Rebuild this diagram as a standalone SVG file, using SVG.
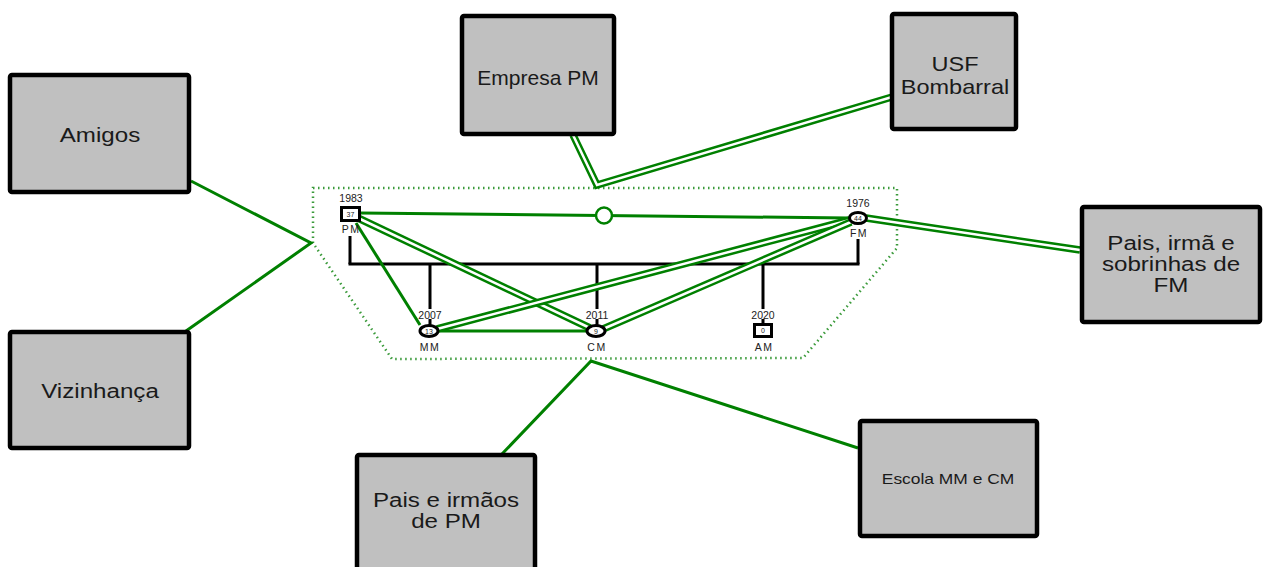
<svg xmlns="http://www.w3.org/2000/svg" width="1264" height="567" viewBox="0 0 1264 567">
<style>
.box{fill:#c0c0c0;stroke:#000;stroke-width:4.5}
.bt{font-family:"Liberation Sans",Arial,sans-serif;font-size:21px;fill:#1a1a1a;text-anchor:middle}
.st{font-family:"Liberation Sans",Arial,sans-serif;font-size:15px;fill:#1a1a1a;text-anchor:middle}
.g1{fill:none;stroke:#008000;stroke-width:3}
.g2o{fill:none;stroke:#008000;stroke-width:7.5;stroke-linejoin:miter}
.g2i{fill:none;stroke:#fff;stroke-width:2.5;stroke-linejoin:miter}
.fam{fill:none;stroke:#000;stroke-width:3}
.hh{fill:none;stroke:#3a9a3a;stroke-width:2.5;stroke-dasharray:1.5 3.5}
.sym{fill:#fff;stroke:#000;stroke-width:3}
.yr{font-family:"Liberation Sans",Arial,sans-serif;font-size:10.5px;fill:#222;text-anchor:middle}
.nm{font-family:"Liberation Sans",Arial,sans-serif;font-size:10.5px;fill:#222;text-anchor:middle;letter-spacing:1.5px}
.ag{font-family:"Liberation Sans",Arial,sans-serif;font-size:7px;fill:#222;text-anchor:middle}
</style>

<polygon class="hh" points="313,188 897,188 897,248 803,358 392,359 313,243"/>

<g id="connectors">
  <polyline class="g1" points="191,181 311,243 186,331"/>
  <polyline class="g1" points="502,454 591,361 858,448"/>
  <polyline class="g2o" points="573,135 597,185 892,97"/>
  <polyline class="g2i" points="573,135 597,185 892,97"/>
  <line class="g2o" x1="866" y1="218" x2="1080" y2="250"/>
  <line class="g2i" x1="866" y1="218" x2="1080" y2="250"/>

  <line class="fam" x1="350" y1="236" x2="350" y2="264"/>
  <line class="fam" x1="348.5" y1="264" x2="859.5" y2="264"/>
  <line class="fam" x1="858" y1="239" x2="858" y2="264"/>
  <line class="fam" x1="430" y1="264" x2="430" y2="309"/>
  <line class="fam" x1="597" y1="264" x2="597" y2="309"/>
  <line class="fam" x1="763" y1="264" x2="763" y2="309"/>
  <line class="fam" x1="430" y1="319" x2="430" y2="325"/>
  <line class="fam" x1="597" y1="319" x2="597" y2="325"/>
  <line class="fam" x1="763" y1="319" x2="763" y2="324"/>

  <line class="g1" x1="360" y1="213" x2="849" y2="218"/>
  <circle cx="604" cy="215.5" r="8" fill="#fff" stroke="#008000" stroke-width="2.5"/>
  <line class="g1" x1="356" y1="223" x2="420" y2="325"/>
  <line class="g1" x1="438" y1="331" x2="587" y2="331"/>
  <line class="g2o" x1="358" y1="218" x2="590" y2="328"/>
  <line class="g2i" x1="358" y1="218" x2="590" y2="328"/>
  <line class="g2o" x1="437" y1="329" x2="850" y2="220"/>
  <line class="g2i" x1="437" y1="329" x2="850" y2="220"/>
  <line class="g2o" x1="603" y1="329" x2="851" y2="222"/>
  <line class="g2i" x1="603" y1="329" x2="851" y2="222"/>
</g>

<g id="amigos">
  <rect class="box" x="10" y="75" width="179" height="117" rx="2"/>
  <text class="bt" transform="translate(100,142) scale(1.15,1)">Amigos</text>
</g>
<g id="vizinhanca">
  <rect class="box" x="10" y="332" width="179" height="116" rx="2"/>
  <text class="bt" transform="translate(100,398) scale(1.15,1)">Vizinhança</text>
</g>
<g id="empresa-pm">
  <rect class="box" x="462" y="16" width="152" height="118" rx="2"/>
  <text class="bt" transform="translate(538,85) scale(1.0,1)">Empresa PM</text>
</g>
<g id="usf-bombarral">
  <rect class="box" x="892" y="14" width="124" height="115" rx="2"/>
  <text class="bt" transform="translate(955,71) scale(1.12,1)">USF</text>
  <text class="bt" transform="translate(955,94) scale(1.12,1)">Bombarral</text>
</g>
<g id="pais-irma-fm">
  <rect class="box" x="1082" y="207" width="178" height="115" rx="2"/>
  <text class="bt" transform="translate(1171,250) scale(1.15,1)">Pais, irmã e</text>
  <text class="bt" transform="translate(1171,271) scale(1.15,1)">sobrinhas de</text>
  <text class="bt" transform="translate(1171,292) scale(1.15,1)">FM</text>
</g>
<g id="pais-irmaos-pm">
  <rect class="box" x="357" y="455" width="178" height="130" rx="2"/>
  <text class="bt" transform="translate(446,507) scale(1.15,1)">Pais e irmãos</text>
  <text class="bt" transform="translate(446,528) scale(1.15,1)">de PM</text>
</g>
<g id="escola">
  <rect class="box" x="860" y="421" width="177" height="115" rx="2"/>
  <text class="st" transform="translate(948,484) scale(1.16,1)">Escola MM e CM</text>
</g>

<g id="pm">
  <text class="yr" x="351" y="202">1983</text>
  <rect class="sym" x="341.5" y="207.5" width="18" height="13"/>
  <text class="ag" x="350.5" y="216.5">37</text>
  <text class="nm" x="351" y="233">PM</text>
</g>
<g id="fm">
  <text class="yr" x="858" y="207">1976</text>
  <ellipse class="sym" cx="858" cy="218" rx="8.5" ry="5.5"/>
  <text class="ag" x="858" y="220.5">44</text>
  <text class="nm" x="859" y="237">FM</text>
</g>
<g id="mm">
  <text class="yr" x="430" y="319">2007</text>
  <ellipse class="sym" cx="429" cy="331" rx="9" ry="5.5"/>
  <text class="ag" x="429" y="333.5">13</text>
  <text class="nm" x="430" y="351">MM</text>
</g>
<g id="cm">
  <text class="yr" x="597" y="319">2011</text>
  <ellipse class="sym" cx="596" cy="331" rx="9" ry="5.5"/>
  <text class="ag" x="596" y="333.5">9</text>
  <text class="nm" x="597" y="351">CM</text>
</g>
<g id="am">
  <text class="yr" x="763" y="319">2020</text>
  <rect class="sym" x="754.5" y="324.5" width="17" height="12"/>
  <text class="ag" x="763" y="333">0</text>
  <text class="nm" x="764" y="351">AM</text>
</g>
</svg>
